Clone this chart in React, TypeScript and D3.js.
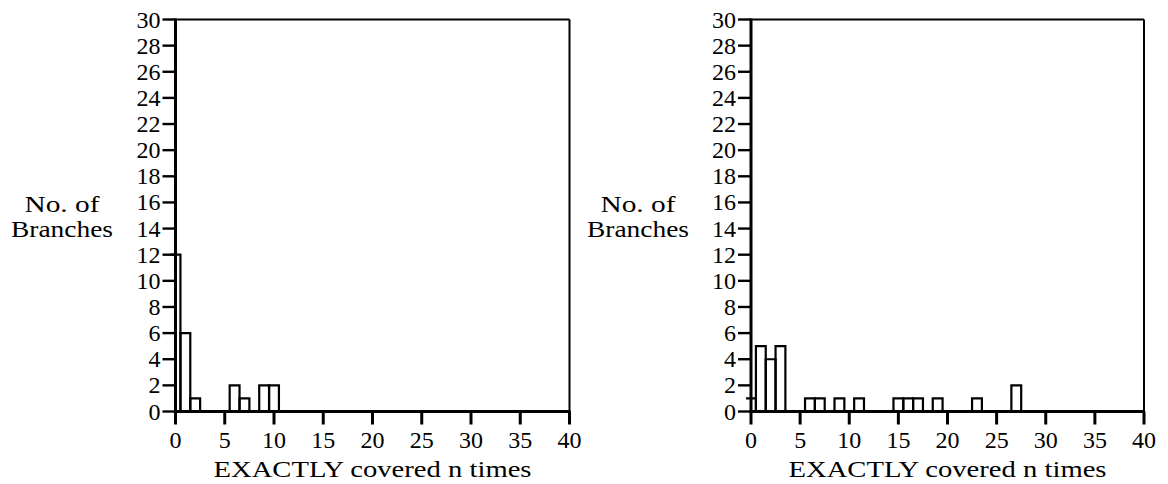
import React from "react";
import * as d3 from "d3";

const leftN = [0, 1, 2, 6, 7, 9, 10];
const leftCounts = [12, 6, 1, 2, 1, 2, 2];
const rightN = [0, 1, 2, 3, 6, 7, 9, 11, 15, 16, 17, 19, 23, 27];
const rightCounts = [1, 5, 4, 5, 1, 1, 1, 1, 1, 1, 1, 1, 1, 2];
const xTicks = [0, 5, 10, 15, 20, 25, 30, 35, 40];
const yTicks = [0, 2, 4, 6, 8, 10, 12, 14, 16, 18, 20, 22, 24, 26, 28, 30];
const xTitle = "EXACTLY covered n times";
const yTitle1 = "No. of";
const yTitle2 = "Branches";

function Panel({ left, right, ns, counts, labelCx }) {
  const top = 19.5;
  const bottom = 411.5;
  const x = d3.scaleLinear().domain([0, 40]).range([left, right]);
  const y = d3.scaleLinear().domain([0, 30]).range([bottom, top]);
  const boxes = ns.map((n, i) => {
    const x0 = x(n - 0.5);
    const x1 = x(n + 0.5);
    const yt = y(counts[i]);
    const y0 = y(0);
    let d = "";
    if (n - 0.5 >= 0) d = `M${x0},${y0}L${x0},${yt}L${x1},${yt}L${x1},${y0}`;
    else d = `M${x0},${yt}L${x1},${yt}L${x1},${y0}`;
    return <path key={n} d={d} fill="none" stroke="#000" strokeWidth={2.2} />;
  });
  return (
    <g>
      <line x1={left} x2={right} y1={top} y2={top} stroke="#000" strokeWidth={2} />
      <line x1={right} x2={right} y1={top} y2={bottom} stroke="#000" strokeWidth={2} />
      {boxes}
      <line x1={left} x2={left} y1={top - 1} y2={bottom + 1.5} stroke="#000" strokeWidth={3} />
      <line x1={left - 1.5} x2={right + 1} y1={bottom} y2={bottom} stroke="#000" strokeWidth={3} />
      {yTicks.map((t) => (
        <g key={"y" + t}>
          <line x1={left - 13} x2={left} y1={y(t)} y2={y(t)} stroke="#000" strokeWidth={2.4} />
          <text x={left - 15} y={y(t) + 8} textAnchor="end" style={{ fontFamily: "Liberation Serif", fontSize: "24px" }}>
            {t}
          </text>
        </g>
      ))}
      {xTicks.map((t) => (
        <g key={"x" + t}>
          <line x1={x(t)} x2={x(t)} y1={bottom} y2={bottom + 13} stroke="#000" strokeWidth={3} />
          <text x={x(t)} y={448} textAnchor="middle" style={{ fontFamily: "Liberation Serif", fontSize: "24px" }}>
            {t}
          </text>
        </g>
      ))}
      <text x={(left + right) / 2} y={477} textAnchor="middle" style={{ fontFamily: "Liberation Serif", fontSize: "24px" }} textLength={318} lengthAdjust="spacingAndGlyphs">
        {xTitle}
      </text>
      <text x={labelCx} y={212} textAnchor="middle" style={{ fontFamily: "Liberation Serif", fontSize: "24px" }} textLength={75} lengthAdjust="spacingAndGlyphs">
        {yTitle1}
      </text>
      <text x={labelCx} y={237} textAnchor="middle" style={{ fontFamily: "Liberation Serif", fontSize: "24px" }} textLength={102} lengthAdjust="spacingAndGlyphs">
        {yTitle2}
      </text>
    </g>
  );
}

export default function App() {
  return (
    <svg width={1168} height={484} style={{ position: "absolute", left: 0, top: 0, fontFamily: "Liberation Serif" }}>
      <rect x={0} y={0} width={1168} height={484} fill="#fff" />
      <Panel left={175.5} right={569.5} ns={leftN} counts={leftCounts} labelCx={62} />
      <Panel left={751} right={1144} ns={rightN} counts={rightCounts} labelCx={638} />
    </svg>
  );
}
